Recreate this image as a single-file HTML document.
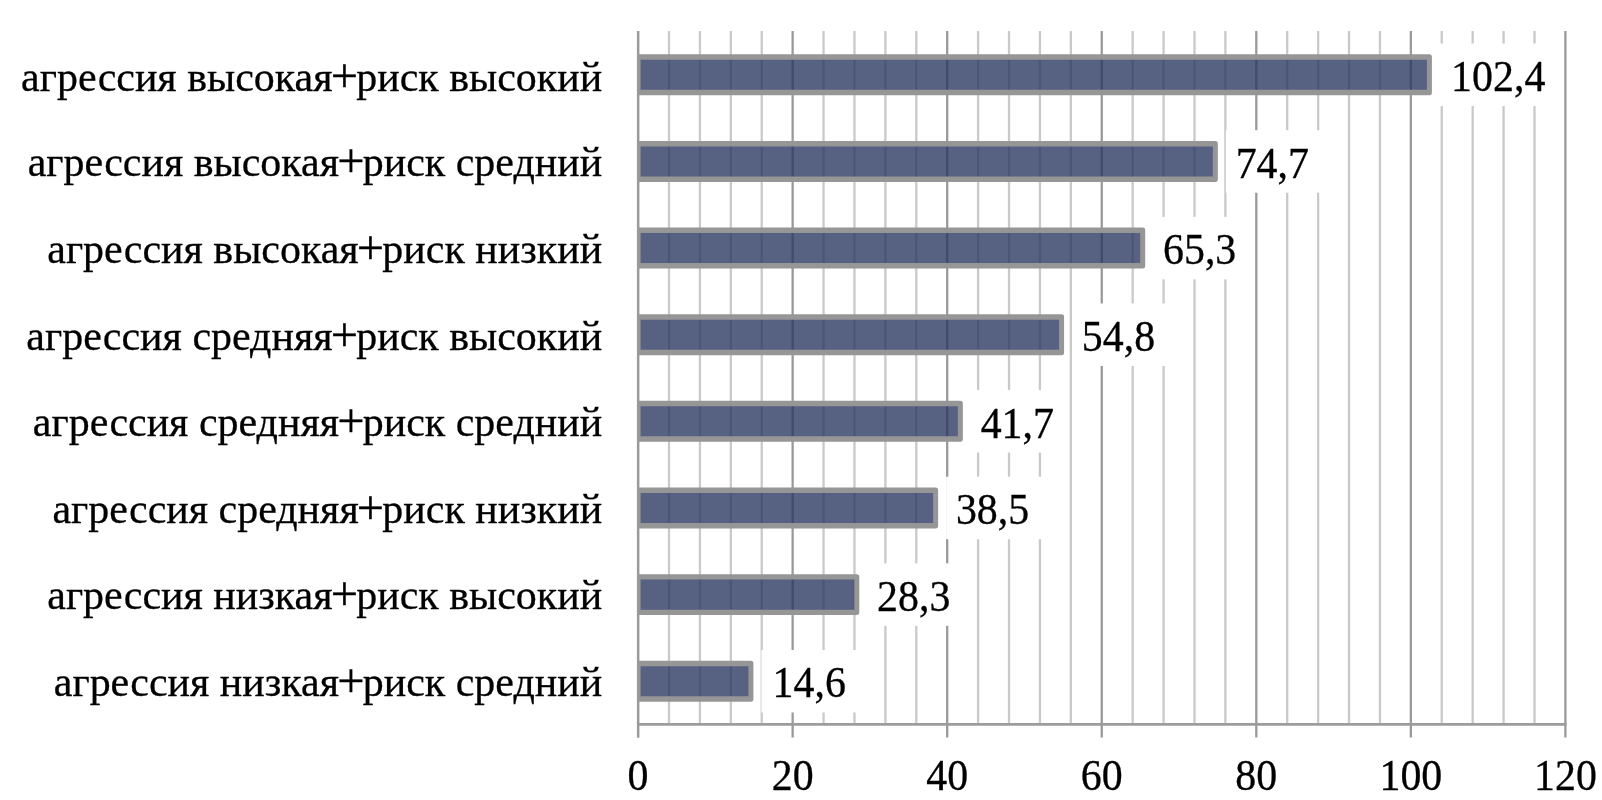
<!DOCTYPE html><html><head><meta charset="utf-8"><style>html,body{margin:0;padding:0;background:#fff;}svg{display:block;will-change:transform}text{font-family:"Liberation Serif","Times New Roman",serif;fill:#000;stroke:#000;stroke-width:0.3px}</style></head><body>
<svg width="1602" height="800" viewBox="0 0 1602 800">
<rect width="1602" height="800" fill="#fff"/>
<defs><clipPath id="pc"><rect x="638.10" y="0" width="1000" height="800"/></clipPath></defs>
<line x1="638.10" y1="31.10" x2="638.10" y2="737.6" stroke="#9a9a9a" stroke-width="2.3"/>
<line x1="669.01" y1="31.10" x2="669.01" y2="724.40" stroke="#c9c9c9" stroke-width="2.3"/>
<line x1="699.92" y1="31.10" x2="699.92" y2="724.40" stroke="#c9c9c9" stroke-width="2.3"/>
<line x1="730.83" y1="31.10" x2="730.83" y2="724.40" stroke="#c9c9c9" stroke-width="2.3"/>
<line x1="761.74" y1="31.10" x2="761.74" y2="724.40" stroke="#c9c9c9" stroke-width="2.3"/>
<line x1="792.65" y1="31.10" x2="792.65" y2="737.6" stroke="#9a9a9a" stroke-width="2.3"/>
<line x1="823.56" y1="31.10" x2="823.56" y2="724.40" stroke="#c9c9c9" stroke-width="2.3"/>
<line x1="854.47" y1="31.10" x2="854.47" y2="724.40" stroke="#c9c9c9" stroke-width="2.3"/>
<line x1="885.38" y1="31.10" x2="885.38" y2="724.40" stroke="#c9c9c9" stroke-width="2.3"/>
<line x1="916.29" y1="31.10" x2="916.29" y2="724.40" stroke="#c9c9c9" stroke-width="2.3"/>
<line x1="947.20" y1="31.10" x2="947.20" y2="737.6" stroke="#9a9a9a" stroke-width="2.3"/>
<line x1="978.11" y1="31.10" x2="978.11" y2="724.40" stroke="#c9c9c9" stroke-width="2.3"/>
<line x1="1009.02" y1="31.10" x2="1009.02" y2="724.40" stroke="#c9c9c9" stroke-width="2.3"/>
<line x1="1039.93" y1="31.10" x2="1039.93" y2="724.40" stroke="#c9c9c9" stroke-width="2.3"/>
<line x1="1070.84" y1="31.10" x2="1070.84" y2="724.40" stroke="#c9c9c9" stroke-width="2.3"/>
<line x1="1101.75" y1="31.10" x2="1101.75" y2="737.6" stroke="#9a9a9a" stroke-width="2.3"/>
<line x1="1132.66" y1="31.10" x2="1132.66" y2="724.40" stroke="#c9c9c9" stroke-width="2.3"/>
<line x1="1163.57" y1="31.10" x2="1163.57" y2="724.40" stroke="#c9c9c9" stroke-width="2.3"/>
<line x1="1194.48" y1="31.10" x2="1194.48" y2="724.40" stroke="#c9c9c9" stroke-width="2.3"/>
<line x1="1225.39" y1="31.10" x2="1225.39" y2="724.40" stroke="#c9c9c9" stroke-width="2.3"/>
<line x1="1256.30" y1="31.10" x2="1256.30" y2="737.6" stroke="#9a9a9a" stroke-width="2.3"/>
<line x1="1287.21" y1="31.10" x2="1287.21" y2="724.40" stroke="#c9c9c9" stroke-width="2.3"/>
<line x1="1318.12" y1="31.10" x2="1318.12" y2="724.40" stroke="#c9c9c9" stroke-width="2.3"/>
<line x1="1349.03" y1="31.10" x2="1349.03" y2="724.40" stroke="#c9c9c9" stroke-width="2.3"/>
<line x1="1379.94" y1="31.10" x2="1379.94" y2="724.40" stroke="#c9c9c9" stroke-width="2.3"/>
<line x1="1410.85" y1="31.10" x2="1410.85" y2="737.6" stroke="#9a9a9a" stroke-width="2.3"/>
<line x1="1441.76" y1="31.10" x2="1441.76" y2="724.40" stroke="#c9c9c9" stroke-width="2.3"/>
<line x1="1472.67" y1="31.10" x2="1472.67" y2="724.40" stroke="#c9c9c9" stroke-width="2.3"/>
<line x1="1503.58" y1="31.10" x2="1503.58" y2="724.40" stroke="#c9c9c9" stroke-width="2.3"/>
<line x1="1534.49" y1="31.10" x2="1534.49" y2="724.40" stroke="#c9c9c9" stroke-width="2.3"/>
<line x1="1565.40" y1="31.10" x2="1565.40" y2="737.6" stroke="#9a9a9a" stroke-width="2.3"/>
<line x1="636.95" y1="724.4" x2="1566.55" y2="724.4" stroke="#9c9c9c" stroke-width="2.6"/>
<g clip-path="url(#pc)"><rect transform="translate(0,74.81) scale(1,1.08)" x="638.10" y="-16.44" width="791.30" height="32.87" fill="#28345d" fill-opacity="0.78" stroke="#969696" stroke-width="5.0" stroke-linejoin="round"/></g>
<g clip-path="url(#pc)"><rect transform="translate(0,161.44) scale(1,1.08)" x="638.10" y="-16.44" width="577.24" height="32.87" fill="#28345d" fill-opacity="0.78" stroke="#969696" stroke-width="5.0" stroke-linejoin="round"/></g>
<g clip-path="url(#pc)"><rect transform="translate(0,248.07) scale(1,1.08)" x="638.10" y="-16.44" width="504.61" height="32.87" fill="#28345d" fill-opacity="0.78" stroke="#969696" stroke-width="5.0" stroke-linejoin="round"/></g>
<g clip-path="url(#pc)"><rect transform="translate(0,334.70) scale(1,1.08)" x="638.10" y="-16.44" width="423.47" height="32.87" fill="#28345d" fill-opacity="0.78" stroke="#969696" stroke-width="5.0" stroke-linejoin="round"/></g>
<g clip-path="url(#pc)"><rect transform="translate(0,421.33) scale(1,1.08)" x="638.10" y="-16.44" width="322.24" height="32.87" fill="#28345d" fill-opacity="0.78" stroke="#969696" stroke-width="5.0" stroke-linejoin="round"/></g>
<g clip-path="url(#pc)"><rect transform="translate(0,507.96) scale(1,1.08)" x="638.10" y="-16.44" width="297.51" height="32.87" fill="#28345d" fill-opacity="0.78" stroke="#969696" stroke-width="5.0" stroke-linejoin="round"/></g>
<g clip-path="url(#pc)"><rect transform="translate(0,594.60) scale(1,1.08)" x="638.10" y="-16.44" width="218.69" height="32.87" fill="#28345d" fill-opacity="0.78" stroke="#969696" stroke-width="5.0" stroke-linejoin="round"/></g>
<g clip-path="url(#pc)"><rect transform="translate(0,681.22) scale(1,1.08)" x="638.10" y="-16.44" width="112.82" height="32.87" fill="#28345d" fill-opacity="0.78" stroke="#969696" stroke-width="5.0" stroke-linejoin="round"/></g>
<line x1="638.10" y1="31.10" x2="638.10" y2="737.6" stroke="#9a9a9a" stroke-width="2.3"/>
<rect x="1439.90" y="43.56" width="116.47" height="62.50" fill="#fff"/>
<text transform="translate(1451.10,91.02) scale(1,1.075)" font-size="41.9">102,4</text>
<rect x="1225.84" y="130.19" width="95.52" height="62.50" fill="#fff"/>
<text transform="translate(1235.64,177.64) scale(1,1.075)" font-size="41.9">74,7</text>
<rect x="1153.21" y="216.82" width="95.52" height="62.50" fill="#fff"/>
<text transform="translate(1163.01,264.27) scale(1,1.075)" font-size="41.9">65,3</text>
<rect x="1072.07" y="303.45" width="95.52" height="62.50" fill="#fff"/>
<text transform="translate(1081.87,350.90) scale(1,1.075)" font-size="41.9">54,8</text>
<rect x="970.84" y="390.08" width="95.52" height="62.50" fill="#fff"/>
<text transform="translate(980.64,437.53) scale(1,1.075)" font-size="41.9">41,7</text>
<rect x="946.11" y="476.71" width="95.52" height="62.50" fill="#fff"/>
<text transform="translate(955.91,524.16) scale(1,1.075)" font-size="41.9">38,5</text>
<rect x="867.29" y="563.35" width="95.52" height="62.50" fill="#fff"/>
<text transform="translate(877.09,610.80) scale(1,1.075)" font-size="41.9">28,3</text>
<rect x="761.42" y="649.97" width="95.52" height="62.50" fill="#fff"/>
<text transform="translate(772.62,697.42) scale(1,1.075)" font-size="41.9">14,6</text>
<text transform="translate(602.2,90.50) scale(1,1.015)" font-size="42.0" text-anchor="end">агрессия высокая<tspan font-size="48.5" dx="-1.83" dy="1.2">+</tspan><tspan dx="-1.83" dy="-1.2">риск высокий</tspan></text>
<text transform="translate(602.2,176.10) scale(1,1.015)" font-size="42.0" text-anchor="end">агрессия высокая<tspan font-size="48.5" dx="-1.83" dy="1.2">+</tspan><tspan dx="-1.83" dy="-1.2">риск средний</tspan></text>
<text transform="translate(602.2,263.10) scale(1,1.015)" font-size="42.0" text-anchor="end">агрессия высокая<tspan font-size="48.5" dx="-1.83" dy="1.2">+</tspan><tspan dx="-1.83" dy="-1.2">риск низкий</tspan></text>
<text transform="translate(602.2,349.60) scale(1,1.015)" font-size="42.0" text-anchor="end">агрессия средняя<tspan font-size="48.5" dx="-1.83" dy="1.2">+</tspan><tspan dx="-1.83" dy="-1.2">риск высокий</tspan></text>
<text transform="translate(602.2,436.20) scale(1,1.015)" font-size="42.0" text-anchor="end">агрессия средняя<tspan font-size="48.5" dx="-1.83" dy="1.2">+</tspan><tspan dx="-1.83" dy="-1.2">риск средний</tspan></text>
<text transform="translate(602.2,522.60) scale(1,1.015)" font-size="42.0" text-anchor="end">агрессия средняя<tspan font-size="48.5" dx="-1.83" dy="1.2">+</tspan><tspan dx="-1.83" dy="-1.2">риск низкий</tspan></text>
<text transform="translate(602.2,609.00) scale(1,1.015)" font-size="42.0" text-anchor="end">агрессия низкая<tspan font-size="48.5" dx="-1.83" dy="1.2">+</tspan><tspan dx="-1.83" dy="-1.2">риск высокий</tspan></text>
<text transform="translate(602.2,696.00) scale(1,1.015)" font-size="42.0" text-anchor="end">агрессия низкая<tspan font-size="48.5" dx="-1.83" dy="1.2">+</tspan><tspan dx="-1.83" dy="-1.2">риск средний</tspan></text>
<text transform="translate(638.10,789.9) scale(1,1.075)" font-size="41.9" text-anchor="middle">0</text>
<text transform="translate(792.65,789.9) scale(1,1.075)" font-size="41.9" text-anchor="middle">20</text>
<text transform="translate(947.20,789.9) scale(1,1.075)" font-size="41.9" text-anchor="middle">40</text>
<text transform="translate(1101.75,789.9) scale(1,1.075)" font-size="41.9" text-anchor="middle">60</text>
<text transform="translate(1256.30,789.9) scale(1,1.075)" font-size="41.9" text-anchor="middle">80</text>
<text transform="translate(1410.85,789.9) scale(1,1.075)" font-size="41.9" text-anchor="middle">100</text>
<text transform="translate(1565.40,789.9) scale(1,1.075)" font-size="41.9" text-anchor="middle">120</text>
</svg></body></html>
